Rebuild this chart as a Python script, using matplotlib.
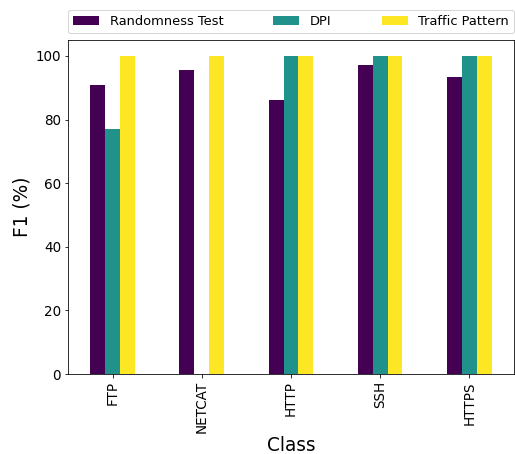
import matplotlib
matplotlib.use("Agg")
import matplotlib.pyplot as plt
import numpy as np

classes = ["FTP", "NETCAT", "HTTP", "SSH", "HTTPS"]
series_names = ["Randomness Test", "DPI", "Traffic Pattern"]
randomness_test = [91.0, 95.6, 86.2, 97.2, 93.4]
dpi = [77.1, 0.0, 100.0, 100.0, 100.0]
traffic_pattern = [100.0, 100.0, 100.0, 100.0, 100.0]

colors = ["#440154", "#21918c", "#fde725"]

fig = plt.figure(figsize=(515 / 72, 454 / 72), dpi=72)
ax = fig.add_axes([0.132, 0.176, 0.866, 0.736])

x = np.arange(len(classes))
n = len(series_names)
width = 0.5 / n
for i, (name, vals) in enumerate(zip(series_names, [randomness_test, dpi, traffic_pattern])):
    ax.bar(x + (i - 1) * width, vals, width, color=colors[i], label=name)

ax.set_xlim(-0.5, len(classes) - 0.5)
ax.set_ylim(0, 105)
ax.set_xticks(x)
ax.set_xticklabels(classes, rotation=90)
ax.set_xlabel("Class", fontsize=18.5, labelpad=3)
ax.set_ylabel("F1 (%)", fontsize=18.5)
ax.tick_params(labelsize=13.5)

ax.legend(bbox_to_anchor=(0, 1.02, 1, 0.102), loc="lower left", ncol=3,
          mode="expand", borderaxespad=0, fontsize=13)

fig.savefig("out.png", dpi=72)
